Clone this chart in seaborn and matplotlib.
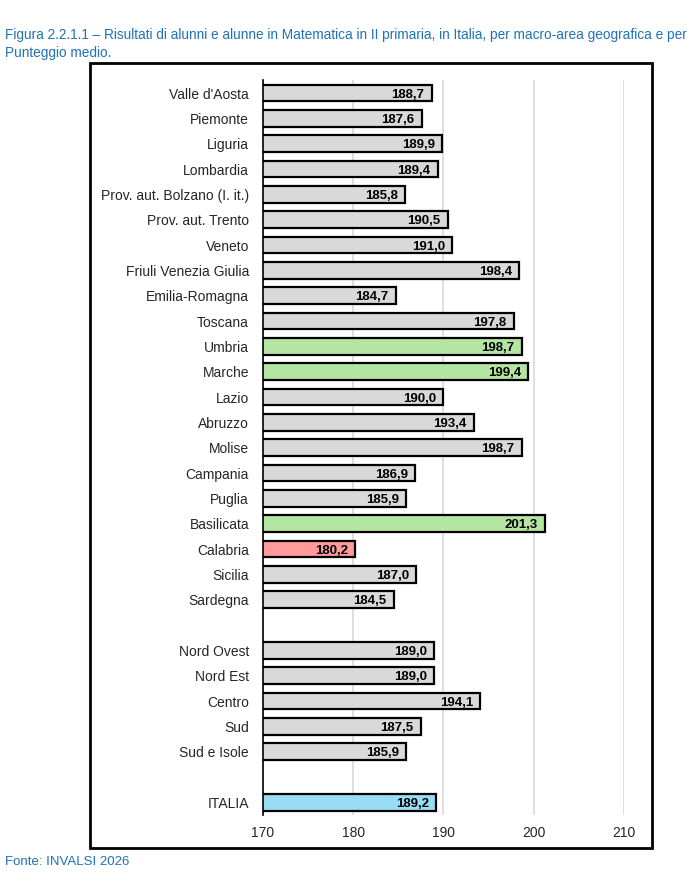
import numpy as np
import pandas as pd
import seaborn as sns
import matplotlib.pyplot as plt
from matplotlib.patches import Rectangle

# Data
regions = ["Valle d'Aosta", "Piemonte", "Liguria", "Lombardia", "Prov. aut. Bolzano (I. it.)",
           "Prov. aut. Trento", "Veneto", "Friuli Venezia Giulia", "Emilia-Romagna", "Toscana",
           "Umbria", "Marche", "Lazio", "Abruzzo", "Molise", "Campania", "Puglia", "Basilicata",
           "Calabria", "Sicilia", "Sardegna"]
region_scores = [188.7, 187.6, 189.9, 189.4, 185.8, 190.5, 191.0, 198.4, 184.7, 197.8,
                 198.7, 199.4, 190.0, 193.4, 198.7, 186.9, 185.9, 201.3, 180.2, 187.0, 184.5]
macro_areas = ["Nord Ovest", "Nord Est", "Centro", "Sud", "Sud e Isole"]
macro_scores = [189.0, 189.0, 194.1, 187.5, 185.9]
italy_label = "ITALIA"
italy_score = 189.2

green_rows = ["Umbria", "Marche", "Basilicata"]
red_rows = ["Calabria"]

x_ticks = [170, 180, 190, 200, 210]
title = ("Figura 2.2.1.1 \u2013 Risultati di alunni e alunne in Matematica in II primaria, in Italia, "
         "per macro-area geografica e per\nPunteggio medio.")
source = "Fonte: INVALSI 2026"

# Build the table, with two empty spacer rows
labels = regions + [" "] + macro_areas + ["  "] + [italy_label]
scores = region_scores + [np.nan] + macro_scores + [np.nan] + [italy_score]
df = pd.DataFrame({"area": labels, "score": scores})

palette = {}
for lab in labels:
    if lab in green_rows:
        palette[lab] = "#b4e5a2"
    elif lab in red_rows:
        palette[lab] = "#ff9b9b"
    elif lab == italy_label:
        palette[lab] = "#99ddf5"
    else:
        palette[lab] = "#d9d9d9"

sns.set_style("white")
plt.rcParams["font.family"] = ["Liberation Sans", "DejaVu Sans"]

fig = plt.figure(figsize=(6.9, 8.83), dpi=100)
ax = fig.add_axes([0.381, 0.077, 0.523, 0.832])

sns.barplot(data=df, x="score", y="area", hue="area", palette=palette, order=labels,
            legend=False, orient="h", width=0.66, edgecolor="black", linewidth=1.6,
            saturation=1, ax=ax)

ax.set_xlim(170, 210)
ax.set_ylim(len(labels) - 0.5, -0.5)
ax.set_xticks(x_ticks)
ax.set_xticklabels([str(t) for t in x_ticks], fontsize=10)
ax.tick_params(axis="x", length=0, pad=8)
ax.tick_params(axis="y", length=0, pad=10, labelsize=10)
ax.set_xlabel("")
ax.set_ylabel("")
ax.grid(axis="x", color="#d9d9d9", linewidth=1.2)
ax.set_axisbelow(True)
for side in ["top", "right", "bottom"]:
    ax.spines[side].set_visible(False)
ax.spines["left"].set_color("black")
ax.spines["left"].set_linewidth(1.2)

# value labels inside the bar ends
for i, v in enumerate(scores):
    if np.isnan(v):
        continue
    ax.text(v - 0.8, i, f"{v:.1f}".replace(".", ","), ha="right", va="center_baseline",
            fontsize=9.5, fontweight="bold", color="black")

# frame around the chart
fig.patches.append(Rectangle((0.130, 0.040), 0.815, 0.889, transform=fig.transFigure,
                             fill=False, edgecolor="black", linewidth=2))

fig.text(0.007, 0.968, title, ha="left", va="top", fontsize=9.8, color="#1f72b8",
         linespacing=1.3)
fig.text(0.007, 0.024, source, ha="left", va="center", fontsize=9.5, color="#1f72b8")

fig.savefig("out.png", dpi=100)
